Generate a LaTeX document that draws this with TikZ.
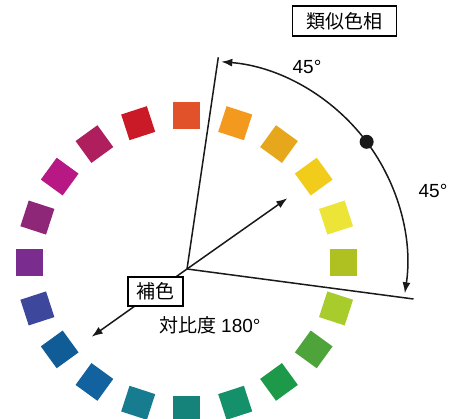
\documentclass[tikz,border=0pt]{standalone}
\usepackage{fontspec}
\setmainfont{Liberation Sans}
\newfontfamily\cjk{Noto Sans CJK JP}
\usetikzlibrary{arrows.meta}
\tikzset{
  chip/.style={fill=#1, minimum size=27pt, inner sep=0pt, draw=none},
  ray/.style={line width=1.5pt, black!90},
  arr/.style={ray, -{Latex[length=11pt,width=8pt]}},
  labelbox/.style={draw, line width=1.5pt, fill=white, inner sep=0pt, font=\cjk\fontsize{19}{19}\selectfont},
  deg/.style={font=\fontsize{19}{19}\selectfont, inner sep=0pt}
}
\begin{document}
\begin{tikzpicture}[x=1pt,y=1pt]
\useasboundingbox (0,0) rectangle (454,419);
% colour wheel
\foreach \a/\c in {90/E2522A,72/F39A1E,54/E6A71C,36/F2CC1B,18/ECE537,0/AFC021,
  342/A7CC2C,324/4EA33A,306/1C9A4A,288/14906B,270/15837A,252/177C8F,234/1262A0,
  216/0F5C97,198/3D479C,180/7B2C8F,162/8E2777,144/B71883,126/B01F5D,108/CB1A27}{
  \definecolor{sqc}{HTML}{\c}
  \node[chip=sqc, rotate=\a] (sq\a) at ({186.7+157*cos(\a)},{156+147*sin(\a)}) {};
}
% rays
\coordinate (v) at (187,150);
\coordinate (topend) at (218.3,361.7);
\coordinate (rightend) at (413.5,120);
\coordinate (ur) at (287.3,220.7);
\coordinate (ll) at (91.7,82.3);
\draw[ray] (topend) -- (v) -- (rightend);
\draw[arr] (v) -- (ur);
\draw[arr] (v) -- (ll);
% arc
\coordinate (arcc) at (205.1,155.9);
\coordinate (dot) at ([shift={(36.9:202)}]arcc);
\draw[arr] (dot) arc[start angle=36.9, end angle=85.4, radius=202];
\draw[arr] (dot) arc[start angle=36.9, end angle=-8.6, radius=202];
\node[circle, fill=black!90, minimum size=14pt, inner sep=0pt] (dotn) at (dot) {};
% labels
\node[labelbox, minimum width=55pt, minimum height=29pt] (hosho) at (155.5,127.5) {補色};
\node[labelbox, minimum width=104pt, minimum height=30pt] (ruiji) at (344.7,398) {類似色相};
\node[deg] (d1) at (307,352) {45°};
\node[deg] (d2) at (433,228) {45°};
\node[inner sep=0pt] (taihi) at (210,94) {{\cjk\fontsize{19}{19}\selectfont 対比度}\hspace{2pt} {\fontsize{19}{19}\selectfont 180°}};
\end{tikzpicture}
\end{document}
